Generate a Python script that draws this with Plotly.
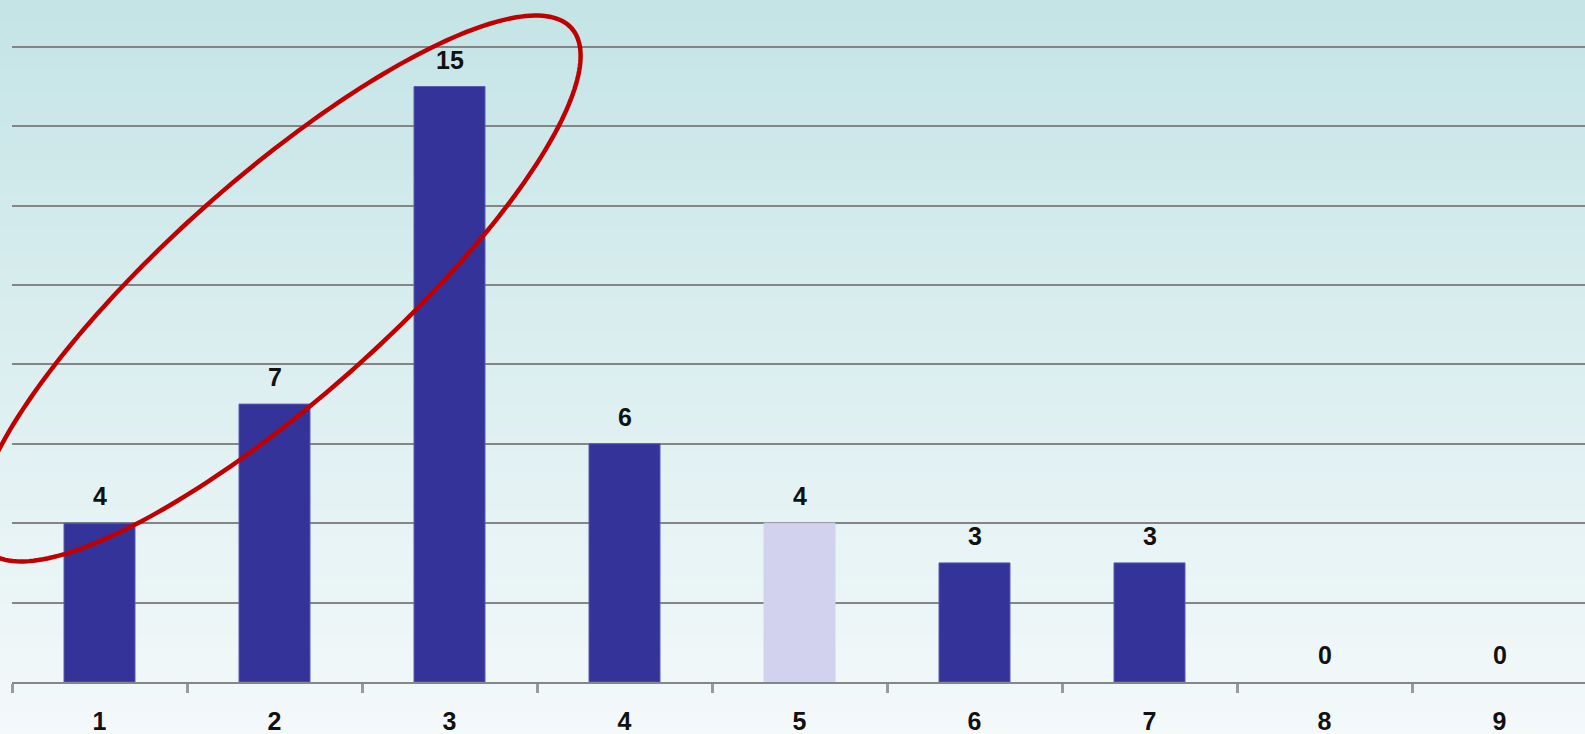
import base64
import struct
import zlib

import numpy as np
import plotly.graph_objects as go

# ---------------- data ----------------
categories = ["1", "2", "3", "4", "5", "6", "7", "8", "9"]
values = [4, 7, 15, 6, 4, 3, 3, 0, 0]
bar_colors = ["#333399", "#333399", "#333399", "#333399", "#d2d2ef",
              "#333399", "#333399", "#333399", "#333399"]
edge_colors = ["#5a5ab0", "#5a5ab0", "#5a5ab0", "#5a5ab0", "#d2d2ef",
               "#5a5ab0", "#5a5ab0", "#5a5ab0", "#5a5ab0"]

# ---------------- geometry / style ----------------
W, H = 1585, 734
ML, MR, MT, MB = 12, 0, 0, 52
PW, PH = W - ML - MR, H - MT - MB
CAT_PX = 175.0          # pixel width of one category band
UNIT_PX = 39.7          # pixels per y unit

grad_top = (196, 228, 230)
grad_bottom = (244, 249, 250)


def gradient_png(top, bottom, rows=256, width=2):
    raw = b""
    for i in range(rows):
        t = i / (rows - 1)
        c = bytes(int(round(top[k] + (bottom[k] - top[k]) * t)) for k in range(3))
        raw += b"\x00" + c * width

    def chunk(tag, data):
        return (struct.pack(">I", len(data)) + tag + data +
                struct.pack(">I", zlib.crc32(tag + data) & 0xFFFFFFFF))

    png = b"\x89PNG\r\n\x1a\n"
    png += chunk(b"IHDR", struct.pack(">IIBBBBB", width, rows, 8, 2, 0, 0, 0))
    png += chunk(b"IDAT", zlib.compress(raw, 9))
    png += chunk(b"IEND", b"")
    return "data:image/png;base64," + base64.b64encode(png).decode()


# highlight ellipse (pixel frame of the page), converted to paper coords
ell_cx, ell_cy, ell_a, ell_b, ell_deg = 278.5, 288.5, 392.0, 110.0, 41.6
th = np.radians(ell_deg)
t = np.linspace(0, 2 * np.pi, 240)
px = ell_cx + ell_a * np.cos(th) * np.cos(t) + ell_b * np.sin(th) * np.sin(t)
py = ell_cy - ell_a * np.sin(th) * np.cos(t) + ell_b * np.cos(th) * np.sin(t)
ux = (px - ML) / PW
uy = (H - MB - py) / PH
path = "M " + " L ".join(f"{a:.5f},{b:.5f}" for a, b in zip(ux, uy)) + " Z"

font_fam = "Liberation Sans, Arial, sans-serif"

fig = go.Figure()
fig.add_trace(go.Bar(
    x=categories, y=values,
    marker=dict(color=bar_colors,
                line=dict(color=edge_colors,
                          width=[1 if v > 0 else 0 for v in values])),
    hoverinfo="x+y",
))

for i, v in enumerate(values):
    fig.add_annotation(
        x=i, y=v, text=str(v), showarrow=False, yanchor="bottom", yshift=11,
        font=dict(family=font_fam, size=25, color="#111111", weight="bold"),
    )

fig.add_shape(type="path", path=path, xref="paper", yref="paper",
              line=dict(color="#c00000", width=4.5), layer="above")

fig.add_layout_image(dict(
    source=gradient_png(grad_top, grad_bottom),
    xref="paper", yref="paper",
    x=-ML / PW, y=1 + MT / PH, sizex=W / PW, sizey=H / PH,
    xanchor="left", yanchor="top", sizing="stretch", layer="below",
))

fig.update_layout(
    width=W, height=H, autosize=False,
    margin=dict(l=ML, r=MR, t=MT, b=MB, pad=0),
    paper_bgcolor="#f4f9fa", plot_bgcolor="rgba(0,0,0,0)",
    bargap=1 - 71.0 / CAT_PX,
    showlegend=False,
    font=dict(family=font_fam, size=25, color="#111111", weight="bold"),
)
fig.update_xaxes(
    type="category", range=[-0.5, -0.5 + PW / CAT_PX],
    tickson="boundaries", ticks="outside", ticklen=9, tickwidth=3,
    tickcolor="#9a9a9a", showline=True, linecolor="#868686", linewidth=2,
    showgrid=False, zeroline=False, ticklabelstandoff=16,
    tickfont=dict(family=font_fam, size=25, color="#111111", weight="bold"),
)
fig.update_yaxes(
    range=[0, PH / UNIT_PX], tick0=0, dtick=2, showgrid=True,
    gridcolor="#858585", gridwidth=2, showticklabels=False, ticks="",
    zeroline=False, showline=False,
)

fig.write_html(
    "out.html",
    config={"displayModeBar": False},
    post_script="document.body.style.margin='0';document.body.style.overflow='hidden';",
)
